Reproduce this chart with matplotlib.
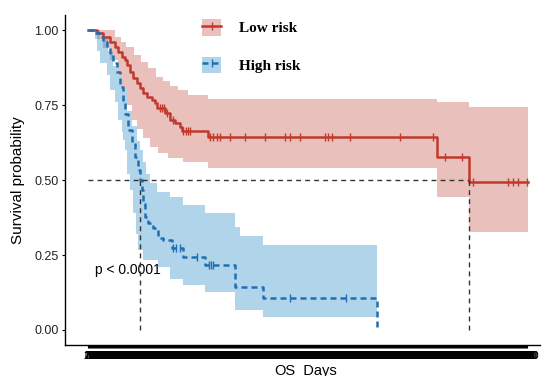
import numpy as np
import matplotlib
matplotlib.use("Agg")
import matplotlib.pyplot as plt
from matplotlib.patches import Patch
from matplotlib.lines import Line2D

plt.rcParams['font.family'] = ['Liberation Sans', 'DejaVu Sans']

# ---------------- data ----------------
groups = ["Low risk", "High risk"]

low_t = [0, 90, 150, 220, 270, 300, 340, 370, 390, 420, 450, 490, 520, 550, 590,
         640, 670, 690, 770, 820, 870, 920, 940, 1200, 3490, 3810]
low_s = [1.0, 0.989, 0.978, 0.961, 0.944, 0.928, 0.909, 0.90, 0.883, 0.861, 0.839,
         0.822, 0.806, 0.789, 0.778, 0.767, 0.756, 0.739, 0.722, 0.70, 0.69, 0.677,
         0.664, 0.644, 0.578, 0.494]
low_end = 4400
low_up_t = [0, 270, 330, 380, 460, 530, 600, 680, 750, 820, 900, 1000, 1200, 3490, 3810]
low_up = [1.0, 0.976, 0.96, 0.943, 0.917, 0.893, 0.873, 0.843, 0.83, 0.815, 0.80,
          0.785, 0.77, 0.76, 0.745]
low_lo_t = [0, 90, 150, 220, 300, 340, 390, 440, 490, 550, 620, 700, 800, 950, 1200, 3490, 3810]
low_lo = [1.0, 0.97, 0.94, 0.90, 0.85, 0.80, 0.75, 0.70, 0.67, 0.64, 0.61, 0.59,
          0.575, 0.56, 0.539, 0.443, 0.327]
low_cens = [720, 740, 760, 790, 850, 950, 980, 1000, 1020, 1220, 1250, 1290, 1320,
            1420, 1570, 1770, 1970, 2020, 2120, 2370, 2400, 2440, 2620, 3120, 3450,
            3570, 3740, 3850, 4200, 4250, 4300, 4390]

high_t = [0, 70, 120, 150, 190, 220, 250, 290, 320, 350, 370, 400, 440, 470, 500,
          520, 540, 550, 570, 600, 650, 700, 750, 840, 950, 1170, 1470, 1750, 2890]
high_s = [1.0, 0.99, 0.978, 0.961, 0.944, 0.922, 0.889, 0.861, 0.811, 0.767, 0.72,
          0.667, 0.622, 0.578, 0.533, 0.50, 0.467, 0.42, 0.377, 0.356, 0.34, 0.307,
          0.30, 0.273, 0.243, 0.217, 0.144, 0.107, 0.0]
high_end = 2890
high_up_t = [0, 120, 200, 250, 300, 340, 390, 440, 490, 520, 550, 580, 620, 690,
             820, 950, 1170, 1470, 1520, 1750]
high_up = [1.0, 0.97, 0.93, 0.88, 0.85, 0.80, 0.73, 0.68, 0.63, 0.60, 0.56, 0.52,
           0.49, 0.46, 0.443, 0.417, 0.39, 0.343, 0.313, 0.283]
high_lo_t = [0, 70, 90, 120, 190, 220, 270, 300, 340, 350, 370, 390, 420, 450, 480,
             500, 550, 700, 820, 950, 1170, 1470, 1750]
high_lo = [1.0, 0.97, 0.93, 0.89, 0.85, 0.80, 0.76, 0.70, 0.66, 0.633, 0.60, 0.52,
           0.467, 0.39, 0.32, 0.267, 0.233, 0.21, 0.17, 0.15, 0.128, 0.067, 0.044]
high_cens = [850, 880, 920, 1090, 1210, 1230, 1250, 2020, 2580]

pval_text = "p < 0.0001"
y_ticks = [0.0, 0.25, 0.5, 0.75, 1.0]
x_ticks = list(range(0, 4400, 10))

red = "#C0392B"
red_fill = "#C34B40"
blue = "#1F6FB4"
blue_fill = "#1D84C3"

# ---------------- figure ----------------
W, H = 542, 376
fig = plt.figure(figsize=(W / 100, H / 100), dpi=100)
ax = fig.add_axes([65 / W, (H - 345) / H, (540 - 65) / W, (345 - 15) / H])


def step_val(t, s, x):
    idx = np.searchsorted(np.asarray(t), x, side='right') - 1
    return np.asarray(s)[idx]


def draw_group(t, s, end, up_t, up, lo_t, lo, cens, color, fill, ls):
    grid = np.unique(np.concatenate([up_t, lo_t, [end]]))
    upv = step_val(up_t, up, grid)
    lov = step_val(lo_t, lo, grid)
    ax.fill_between(grid, lov, upv, step='post', color=fill, alpha=0.35,
                    linewidth=0, zorder=1)
    tt = np.append(t, end)
    ss = np.append(s, s[-1])
    ax.step(tt, ss, where='post', color=color, lw=1.8, linestyle=ls, zorder=3)
    cy = step_val(t, s, np.asarray(cens))
    ax.plot(cens, cy, linestyle='none', marker='|', markersize=6,
            markeredgewidth=1.0, color=color, zorder=4)


draw_group(low_t, low_s, low_end, low_up_t, low_up, low_lo_t, low_lo, low_cens,
           red, red_fill, '-')
draw_group(high_t, high_s, high_end, high_up_t, high_up, high_lo_t, high_lo,
           high_cens, blue, blue_fill, (0, (2.4, 1.6)))


def median(t, s):
    for ti, si in zip(t, s):
        if si <= 0.5:
            return ti
    return None


meds = [median(low_t, low_s), median(high_t, high_s)]
dash = (0, (3.5, 3))
ax.plot([0, max(meds)], [0.5, 0.5], color='#333333', lw=1.0, linestyle=dash, zorder=5)
for m in meds:
    ax.plot([m, m], [0, 0.5], color='#333333', lw=1.0, linestyle=dash, zorder=5)

ax.text(70, 0.2, pval_text, fontsize=10, ha='left', va='center', color='black')

# axes
ax.set_xlim(-230, 4520)
ax.set_ylim(-0.05, 1.05)
ax.set_yticks(y_ticks)
ax.set_yticklabels([f"{v:.2f}" for v in y_ticks], fontsize=9, color='#222222')
ax.set_xticks(x_ticks)
ax.set_xticklabels([str(v) for v in x_ticks], fontsize=8, color='black')
ax.tick_params(axis='both', length=2.3, width=0.8, pad=2.2, color='black')
for sp in ['top', 'right']:
    ax.spines[sp].set_visible(False)
for sp in ['left', 'bottom']:
    ax.spines[sp].set_linewidth(1.0)

ax.set_ylabel("Survival probability", fontsize=11, labelpad=7)
fig.text(306 / W, 0.6 / H, "OS_Days", fontsize=10.5, ha='center', va='baseline')

# legend
handles = [
    (Patch(facecolor=red_fill, alpha=0.35, edgecolor='none'),
     Line2D([], [], color=red, lw=1.8, marker='|', markersize=6, markeredgewidth=1.0)),
    (Patch(facecolor=blue_fill, alpha=0.35, edgecolor='none'),
     Line2D([], [], color=blue, lw=1.8, linestyle=(0, (2.4, 1.6)), marker='|',
            markersize=6, markeredgewidth=1.0)),
]
leg = fig.legend(handles, groups, loc='upper left',
                 bbox_to_anchor=(202 / W, 1 - 19 / H), frameon=False,
                 prop=dict(family='Liberation Serif', weight='bold', size=11),
                 handlelength=1.25, handleheight=1.3, handletextpad=1.2,
                 labelspacing=1.38, borderpad=0, borderaxespad=0)

fig.savefig("out.png", dpi=100)
